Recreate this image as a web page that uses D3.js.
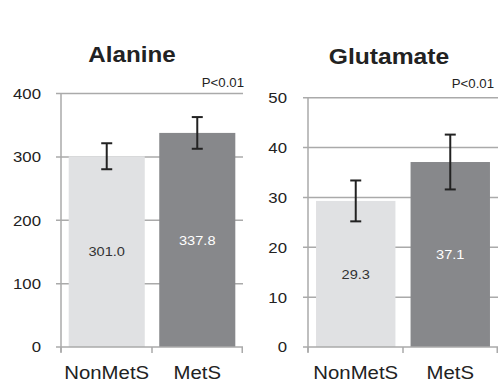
<!DOCTYPE html>
<html>
<head>
<meta charset="utf-8">
<script src="https://cdn.jsdelivr.net/npm/d3@7"></script>
<style>
  body { margin: 0; background: #fff; }
  text { font-family: "Liberation Sans", Arial, sans-serif; }
</style>
</head>
<body>
<svg width="499" height="383"></svg>
<script>
// data
var groups = ["NonMetS", "MetS"];
var titles = ["Alanine", "Glutamate"];
var pLabels = ["P<0.01", "P<0.01"];
var alanineMean = [301.0, 337.8];
var alanineErr = [20.5, 25];
var glutamateMean = [29.3, 37.1];
var glutamateErr = [4.1, 5.5];
var alanineTicks = [0, 100, 200, 300, 400];
var glutamateTicks = [0, 10, 20, 30, 40, 50];

var svg = d3.select("svg");
var barColors = ["#e0e1e3", "#87888b"];
var labelColors = ["#333", "#fff"];
var gridColor = "#aaa";

// stretch text a bit wider, the original is horizontally stretched
function widen(sel, k) {
    sel.attr("lengthAdjust", "spacingAndGlyphs")
       .each(function () { this.setAttribute("textLength", this.getComputedTextLength() * k); });
}

var panels = [
    {title: titles[0], p: pLabels[0], mean: alanineMean, err: alanineErr, ticks: alanineTicks,
     x0: 61, x1: 243, yTop: 93.5, titleX: 132, titleY: 62, pY: 87, tickX: 41},
    {title: titles[1], p: pLabels[1], mean: glutamateMean, err: glutamateErr, ticks: glutamateTicks,
     x0: 308, x1: 498, yTop: 97.7, titleX: 389, titleY: 64, pY: 88, tickX: 287}
];
var bottom = 347;

panels.forEach(function (pn) {
    var x = d3.scaleBand().domain(groups).range([pn.x0, pn.x1])
        .paddingInner(0.16).paddingOuter(0.085);
    var y = d3.scaleLinear().domain([0, d3.max(pn.ticks)]).range([bottom, pn.yTop]);
    var g = svg.append("g");

    // gridlines + y ticks
    g.selectAll(".grid").data(pn.ticks.filter(function (d) { return d > 0; })).enter()
        .append("line")
        .attr("x1", pn.x0 - 5).attr("x2", pn.x1)
        .attr("y1", function (d) { return y(d); })
        .attr("y2", function (d) { return y(d); })
        .attr("stroke", gridColor).attr("stroke-width", 1.5);

    g.selectAll(".ylab").data(pn.ticks).enter()
        .append("text")
        .attr("x", pn.tickX)
        .attr("y", function (d) { return y(d); })
        .attr("dy", "0.35em")
        .attr("text-anchor", "end")
        .attr("font-size", 15.5)
        .attr("fill", "#222")
        .text(function (d) { return d; })
        .call(widen, 1.08);

    // bars
    g.selectAll(".bar").data(pn.mean).enter()
        .append("rect")
        .attr("x", function (d, i) { return x(groups[i]); })
        .attr("width", x.bandwidth())
        .attr("y", function (d) { return y(d); })
        .attr("height", function (d) { return bottom - y(d); })
        .attr("fill", function (d, i) { return barColors[i]; });

    // value labels
    g.selectAll(".val").data(pn.mean).enter()
        .append("text")
        .attr("x", function (d, i) { return x(groups[i]) + x.bandwidth() / 2; })
        .attr("y", function (d) { return (y(d) + bottom) / 2; })
        .attr("dy", "0.35em")
        .attr("text-anchor", "middle")
        .attr("font-size", 13.5)
        .attr("fill", function (d, i) { return labelColors[i]; })
        .text(function (d) { return d.toFixed(1); })
        .call(widen, 1.08);

    // axes lines
    g.append("line").attr("x1", pn.x0).attr("x2", pn.x0)
        .attr("y1", pn.yTop).attr("y2", bottom + 5)
        .attr("stroke", gridColor).attr("stroke-width", 1.5);
    g.append("line").attr("x1", pn.x0 - 5).attr("x2", pn.x1)
        .attr("y1", bottom).attr("y2", bottom)
        .attr("stroke", gridColor).attr("stroke-width", 1.5);
    var xt = [pn.x0, x(groups[1]) - x.step() * x.paddingInner() / 2, pn.x1 - 0.75];
    g.selectAll(".xt").data(xt).enter()
        .append("line")
        .attr("x1", function (d) { return d; }).attr("x2", function (d) { return d; })
        .attr("y1", bottom).attr("y2", bottom + 6)
        .attr("stroke", gridColor).attr("stroke-width", 1.5);

    // error bars
    var eb = g.selectAll(".eb").data(pn.mean).enter().append("g")
        .attr("stroke", "#222").attr("stroke-width", 2);
    eb.append("line")
        .attr("x1", function (d, i) { return x(groups[i]) + x.bandwidth() / 2; })
        .attr("x2", function (d, i) { return x(groups[i]) + x.bandwidth() / 2; })
        .attr("y1", function (d, i) { return y(d + pn.err[i]); })
        .attr("y2", function (d, i) { return y(d - pn.err[i]); });
    [1, -1].forEach(function (s) {
        eb.append("line")
            .attr("x1", function (d, i) { return x(groups[i]) + x.bandwidth() / 2 - 5.5; })
            .attr("x2", function (d, i) { return x(groups[i]) + x.bandwidth() / 2 + 5.5; })
            .attr("y1", function (d, i) { return y(d + s * pn.err[i]); })
            .attr("y2", function (d, i) { return y(d + s * pn.err[i]); });
    });

    // category labels
    g.selectAll(".cat").data(groups).enter()
        .append("text")
        .attr("x", function (d) { return x(d) + x.bandwidth() / 2; })
        .attr("y", 379)
        .attr("text-anchor", "middle")
        .attr("font-size", 18)
        .attr("fill", "#222")
        .text(function (d) { return d; })
        .call(widen, 1.13);

    // title and p value
    g.append("text")
        .attr("x", pn.titleX).attr("y", pn.titleY)
        .attr("text-anchor", "middle")
        .attr("font-size", 22).attr("font-weight", "bold")
        .attr("fill", "#222")
        .text(pn.title)
        .call(widen, pn.title === "Alanine" ? 1.1 : 1.12);

    g.append("text")
        .attr("x", pn.x1 + (pn.title === "Alanine" ? 1 : -4)).attr("y", pn.pY)
        .attr("text-anchor", "end")
        .attr("font-size", 12)
        .attr("fill", "#222")
        .text(pn.p)
        .call(widen, 1.1);
});
</script>
</body>
</html>
